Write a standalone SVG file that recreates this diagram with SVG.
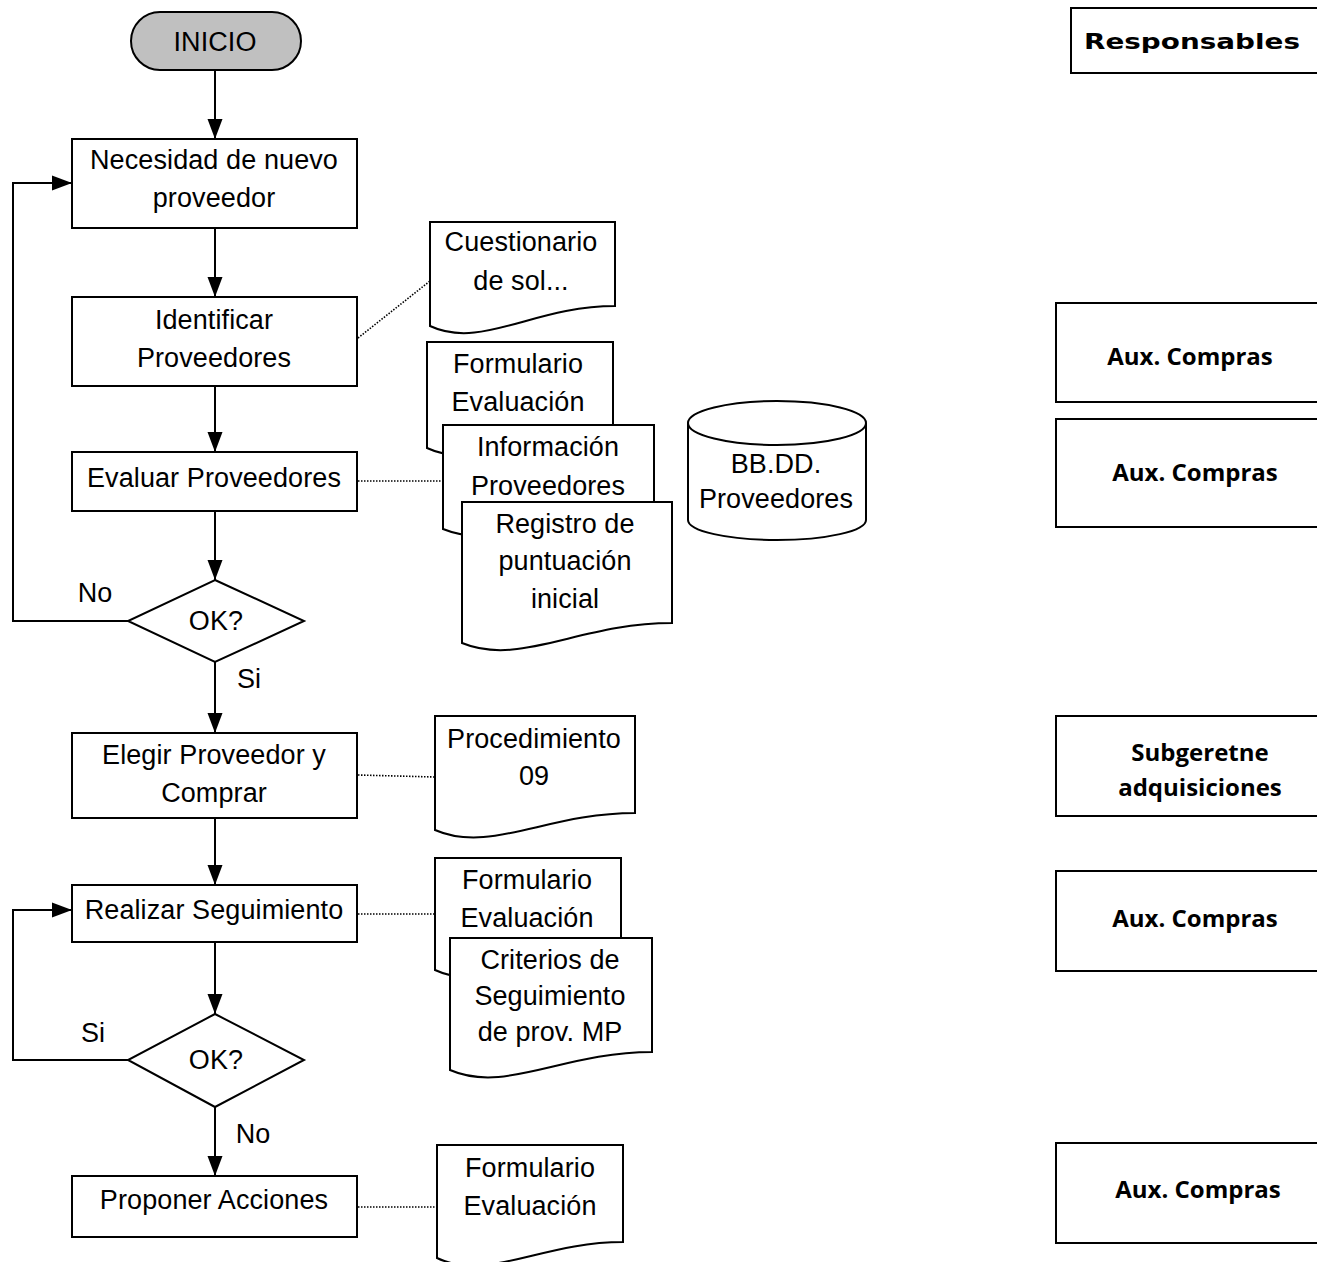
<svg xmlns="http://www.w3.org/2000/svg" width="1317" height="1262" viewBox="0 0 1317 1262">
  <defs>
    <marker id="arrow" markerUnits="userSpaceOnUse" markerWidth="22" markerHeight="18" viewBox="0 -9 22 18" refX="20" refY="0" orient="auto">
      <path d="M0,-7.5 L20,0 L0,7.5 Z" fill="#000"/>
    </marker>
    <style>
      .shape { fill: #fff; stroke: #000; stroke-width: 2; }
      .term { fill: #c0c0c0; stroke: #000; stroke-width: 2; }
      .flow { fill: none; stroke: #000; stroke-width: 2; }
      .assoc { fill: none; stroke: #000; stroke-width: 1.6; stroke-dasharray: 1.5 1.5; }
      text { font-family: "Liberation Sans", Arial, sans-serif; font-size: 27px; text-anchor: middle; dominant-baseline: central; fill: #000; letter-spacing: 0.1px; }
      .resp { font-family: "Open Sans", "Liberation Sans", sans-serif; font-weight: 700; font-size: 24px; letter-spacing: 0; }
      .head { font-family: "DejaVu Sans", sans-serif; font-weight: 700; font-size: 22px; letter-spacing: 0; }
    </style>
  </defs>

  <!-- connectors -->
  <g id="connectors">
    <line class="flow" x1="215" y1="70" x2="215" y2="139" marker-end="url(#arrow)"/>
    <line class="flow" x1="215" y1="228" x2="215" y2="297" marker-end="url(#arrow)"/>
    <line class="flow" x1="215" y1="386" x2="215" y2="452" marker-end="url(#arrow)"/>
    <line class="flow" x1="215" y1="511" x2="215" y2="580" marker-end="url(#arrow)"/>
    <polyline class="flow" points="128,621 13,621 13,183 72,183" marker-end="url(#arrow)"/>
    <line class="flow" x1="215" y1="662" x2="215" y2="733" marker-end="url(#arrow)"/>
    <line class="flow" x1="215" y1="818" x2="215" y2="885" marker-end="url(#arrow)"/>
    <line class="flow" x1="215" y1="942" x2="215" y2="1014" marker-end="url(#arrow)"/>
    <polyline class="flow" points="128,1060 13,1060 13,910 72,910" marker-end="url(#arrow)"/>
    <line class="flow" x1="215" y1="1107" x2="215" y2="1176" marker-end="url(#arrow)"/>
    <!-- document associations -->
    <line class="assoc" x1="358" y1="338" x2="430" y2="281"/>
    <line class="assoc" x1="358" y1="481" x2="443" y2="481"/>
    <line class="assoc" x1="358" y1="775" x2="435" y2="777"/>
    <line class="assoc" x1="358" y1="914" x2="435" y2="914"/>
    <line class="assoc" x1="358" y1="1207" x2="437" y2="1207"/>
  </g>

  <!-- process column -->
  <g id="inicio">
    <path class="term" d="M160,12 H272 A29,29 0 0 1 272,70 H160 A29,29 0 0 1 160,12 Z"/>
    <text x="215" y="42">INICIO</text>
  </g>
  <g id="necesidad">
    <rect class="shape" x="72" y="139" width="285" height="89"/>
    <text x="214" y="160">Necesidad de nuevo</text>
    <text x="214" y="198">proveedor</text>
  </g>
  <g id="identificar">
    <rect class="shape" x="72" y="297" width="285" height="89"/>
    <text x="214" y="320">Identificar</text>
    <text x="214" y="358">Proveedores</text>
  </g>
  <g id="evaluar">
    <rect class="shape" x="72" y="452" width="285" height="59"/>
    <text x="214" y="478">Evaluar Proveedores</text>
  </g>
  <g id="decision1">
    <polygon class="shape" points="215,580 304,621 215,662 128,621"/>
    <text x="216" y="621">OK?</text>
    <text x="95" y="593">No</text>
    <text x="249" y="679">Si</text>
  </g>
  <g id="elegir">
    <rect class="shape" x="72" y="733" width="285" height="85"/>
    <text x="214" y="755">Elegir Proveedor y</text>
    <text x="214" y="793">Comprar</text>
  </g>
  <g id="seguimiento">
    <rect class="shape" x="72" y="885" width="285" height="57"/>
    <text x="214" y="910">Realizar Seguimiento</text>
  </g>
  <g id="decision2">
    <polygon class="shape" points="215,1014 304,1060 215,1107 128,1060"/>
    <text x="216" y="1060">OK?</text>
    <text x="93" y="1033">Si</text>
    <text x="253" y="1134">No</text>
  </g>
  <g id="proponer">
    <rect class="shape" x="72" y="1176" width="285" height="61"/>
    <text x="214" y="1200">Proponer Acciones</text>
  </g>

  <!-- documents -->
  <g id="doc-cuestionario">
    <path class="shape" d="M430,222 H615 V306 C534,306 481,350 430,326 Z"/>
    <text x="521" y="242">Cuestionario</text>
    <text x="521" y="281">de sol...</text>
  </g>
  <g id="doc-formulario1">
    <path class="shape" d="M427,342 H613 V428 C531,428 478,472 427,448 Z"/>
    <text x="518" y="364">Formulario</text>
    <text x="518" y="402">Evaluación</text>
  </g>
  <g id="doc-informacion">
    <path class="shape" d="M443,425 H654 V509 C561,509 501,553 443,529 Z"/>
    <text x="548" y="447">Información</text>
    <text x="548" y="486">Proveedores</text>
  </g>
  <g id="doc-registro">
    <path class="shape" d="M462,502 H672 V623 C580,623 520,667 462,643 Z"/>
    <text x="565" y="524">Registro de</text>
    <text x="565" y="561">puntuación</text>
    <text x="565" y="599">inicial</text>
  </g>
  <g id="bbdd">
    <path class="shape" d="M688,423 V520 A89,20 0 0 0 866,520 V423"/>
    <ellipse class="shape" cx="777" cy="423" rx="89" ry="22"/>
    <text x="776" y="464">BB.DD.</text>
    <text x="776" y="499">Proveedores</text>
  </g>
  <g id="doc-procedimiento">
    <path class="shape" d="M435,716 H635 V813 C547,813 490,854 435,830 Z"/>
    <text x="534" y="739">Procedimiento</text>
    <text x="534" y="776">09</text>
  </g>
  <g id="doc-formulario2">
    <path class="shape" d="M435,858 H621 V952 C539,952 486,994 435,970 Z"/>
    <text x="527" y="880">Formulario</text>
    <text x="527" y="918">Evaluación</text>
  </g>
  <g id="doc-criterios">
    <path class="shape" d="M450,938 H652 V1052 C563,1052 505,1094 450,1070 Z"/>
    <text x="550" y="960">Criterios de</text>
    <text x="550" y="996">Seguimiento</text>
    <text x="550" y="1032">de prov. MP</text>
  </g>
  <g id="doc-formulario3">
    <path class="shape" d="M437,1145 H623 V1242 C541,1242 488,1282 437,1258 Z"/>
    <text x="530" y="1168">Formulario</text>
    <text x="530" y="1206">Evaluación</text>
  </g>

  <!-- responsibility column -->
  <g id="responsables">
    <rect class="shape" x="1071" y="8" width="260" height="65"/>
    <text class="head" x="1192" y="41" textLength="216" lengthAdjust="spacingAndGlyphs">Responsables</text>
  </g>
  <g id="resp-identificar">
    <rect class="shape" x="1056" y="303" width="275" height="99"/>
    <text class="resp" x="1190" y="355">Aux. Compras</text>
  </g>
  <g id="resp-evaluar">
    <rect class="shape" x="1056" y="419" width="275" height="108"/>
    <text class="resp" x="1195" y="471">Aux. Compras</text>
  </g>
  <g id="resp-elegir">
    <rect class="shape" x="1056" y="716" width="275" height="100"/>
    <text class="resp" x="1200" y="751">Subgeretne</text>
    <text class="resp" x="1200" y="786">adquisiciones</text>
  </g>
  <g id="resp-seguimiento">
    <rect class="shape" x="1056" y="871" width="275" height="100"/>
    <text class="resp" x="1195" y="917">Aux. Compras</text>
  </g>
  <g id="resp-proponer">
    <rect class="shape" x="1056" y="1143" width="275" height="100"/>
    <text class="resp" x="1198" y="1188">Aux. Compras</text>
  </g>
</svg>
